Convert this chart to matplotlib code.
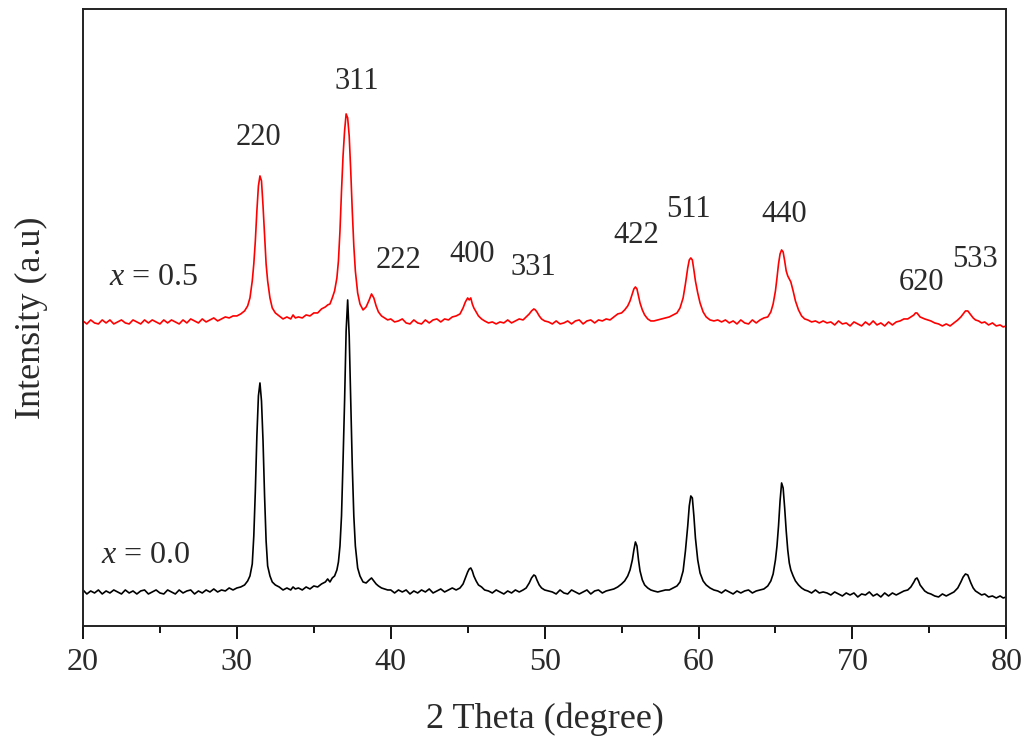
import numpy as np
import matplotlib
matplotlib.use("Agg")
import matplotlib.pyplot as plt

plt.rcParams['font.family'] = ['Liberation Serif', 'DejaVu Serif']
plt.rcParams['mathtext.fontset'] = 'custom'
plt.rcParams['mathtext.rm'] = 'Liberation Serif'
plt.rcParams['mathtext.it'] = 'Liberation Serif:italic'

# 2 theta grid (degree), shared by both patterns
two_theta = [
    20.0, 20.25, 20.5, 20.75, 21.0, 21.25, 21.5, 21.75, 22.0, 22.25,
    22.5, 22.75, 23.0, 23.25, 23.5, 23.75, 24.0, 24.25, 24.5, 24.75,
    25.0, 25.25, 25.5, 25.75, 26.0, 26.25, 26.5, 26.75, 27.0, 27.25,
    27.5, 27.75, 28.0, 28.25, 28.5, 28.75, 29.0, 29.25, 29.5, 29.75,
    30.0, 30.25, 30.5, 30.7, 30.85, 31.0, 31.1, 31.2, 31.3, 31.4, 31.5, 31.6, 31.7, 31.8, 31.9, 32.0,
    32.15, 32.3, 32.5, 32.75, 33.0, 33.25, 33.5, 33.65, 33.8, 34.0, 34.25, 34.5, 34.75, 35.0, 35.25, 35.5, 35.75,
    35.9, 36.05, 36.2, 36.35, 36.5, 36.6, 36.7, 36.8, 36.9, 37.0, 37.1, 37.2, 37.3, 37.4, 37.5,
    37.6, 37.7, 37.85, 38.0, 38.2, 38.4, 38.6, 38.75, 38.9, 39.05, 39.2, 39.4, 39.6, 39.8,
    40.0, 40.25, 40.5, 40.75, 41.0, 41.25, 41.5, 41.75, 42.0, 42.25, 42.5, 42.75, 43.0, 43.25, 43.5, 43.75, 44.0, 44.25,
    44.5, 44.7, 44.85, 45.0, 45.1, 45.2, 45.3, 45.4, 45.55, 45.7, 45.9, 46.1, 46.35, 46.6, 46.85, 47.1,
    47.35, 47.6, 47.85, 48.1, 48.35, 48.6, 48.8, 49.0, 49.15, 49.3, 49.4, 49.5, 49.65, 49.8, 50.0, 50.25,
    50.5, 50.75, 51.0, 51.25, 51.5, 51.75, 52.0, 52.25, 52.5, 52.75, 53.0, 53.25, 53.5, 53.75, 54.0, 54.25, 54.5, 54.75,
    55.0, 55.2, 55.4, 55.55, 55.7, 55.8, 55.9, 56.0, 56.1, 56.2, 56.35, 56.5, 56.7, 56.9, 57.1, 57.35, 57.6, 57.85,
    58.1, 58.35, 58.6, 58.8, 59.0, 59.15, 59.3, 59.4, 59.5, 59.6, 59.7, 59.8, 59.95, 60.1, 60.3, 60.5, 60.75, 61.0,
    61.25, 61.5, 61.75, 62.0, 62.25, 62.5, 62.75, 63.0, 63.25, 63.5, 63.75, 64.0, 64.25,
    64.5, 64.7, 64.85, 65.0, 65.1, 65.2, 65.3, 65.4, 65.5, 65.6, 65.7, 65.8, 65.9, 66.0, 66.15, 66.3,
    66.5, 66.7, 66.9, 67.1, 67.35, 67.6, 67.85, 68.1,
    68.35, 68.6, 68.85, 69.1, 69.35, 69.6, 69.85, 70.1, 70.35, 70.6, 70.85, 71.1, 71.35, 71.6, 71.85, 72.1,
    72.35, 72.6, 72.85, 73.1, 73.35,
    73.6, 73.8, 74.0, 74.1, 74.2, 74.3, 74.4, 74.55, 74.7, 74.9, 75.1, 75.35, 75.6, 75.85, 76.1, 76.35, 76.6, 76.85,
    77.05, 77.2, 77.35, 77.5, 77.6, 77.7, 77.85, 78.0, 78.2, 78.4, 78.6, 78.85, 79.1, 79.35, 79.6, 79.8, 80.0,
]

# x = 0.0 pattern (black)
intensity_x00 = [
    36, 32, 35, 33, 36, 32, 35, 33, 36, 34,
    32, 36, 33, 35, 32, 35, 36, 32, 34, 36,
    33, 32, 36, 34, 32, 36, 33, 35, 36, 32,
    35, 33, 36, 34, 37, 34, 36, 35, 38, 36,
    38, 39, 41, 45, 50, 62, 90, 135, 190, 230, 243, 225, 185, 130, 85, 60,
    50, 44, 41, 39, 36, 38, 36, 39, 37, 38, 36, 39, 37, 40, 39, 42, 44,
    47, 44, 48, 50, 56, 64, 80, 110, 165, 225, 295, 326, 290, 225, 160,
    110, 80, 58, 50, 44, 43, 46, 48, 45, 42, 40, 38, 37, 36,
    36, 33, 36, 34, 36, 32, 35, 33, 36, 34, 37, 33, 35, 37, 34, 36, 38, 36,
    38, 42, 48, 54, 57, 58, 55, 50, 45, 41, 39, 36, 35, 33, 36, 34,
    32, 35, 33, 36, 34, 36, 38, 43, 48, 51, 50, 46, 41, 38, 36, 35,
    34, 32, 36, 33, 32, 36, 34, 32, 34, 36, 32, 35, 36, 33, 35, 36, 37, 39,
    42, 45, 50, 56, 66, 76, 84, 80, 66, 55, 46, 41, 38, 36, 35, 34, 35, 36,
    36, 38, 40, 44, 55, 75, 100, 120, 130, 128, 110, 88, 66, 53, 45, 41, 38, 36,
    35, 33, 36, 34, 32, 35, 33, 35, 36, 33, 35, 36, 37,
    40, 45, 52, 66, 80, 100, 125, 143, 138, 118, 95, 76, 63, 56, 50, 45,
    41, 38, 36, 35, 33, 36, 33, 34,
    33, 31, 34, 32, 30, 33, 31, 33, 29, 32, 31, 34, 30, 32, 29, 33,
    30, 33, 31, 33, 35,
    36, 39, 44, 47, 48, 45, 41, 38, 35, 33, 32, 30, 29, 32, 30, 32, 34, 38,
    44, 49, 52, 51, 47, 43, 38, 35, 33, 31, 32, 29, 30, 28, 30, 28, 29,
]

# x = 0.5 pattern (red), already offset upward
intensity_x05 = [
    305, 302, 306, 303, 302, 306, 303, 306, 302, 304,
    306, 303, 302, 306, 304, 302, 306, 303, 306, 304,
    302, 306, 303, 306, 304, 302, 306, 303, 307, 305,
    303, 307, 304, 306, 308, 305, 307, 309, 308, 310,
    310, 312, 315, 320, 328, 345, 362, 385, 415, 440, 450, 445, 420, 390, 362, 345,
    328, 318, 313, 310, 307, 309, 307, 311, 308, 309, 308, 311, 310, 313, 313, 317, 319,
    321, 322, 328, 335, 348, 365, 395, 435, 470, 495, 512, 508, 490, 455, 415,
    380, 355, 333, 322, 316, 319, 326, 332, 328, 320, 314, 310, 308, 306,
    307, 304, 305, 307, 303, 302, 306, 303, 302, 306, 303, 306, 307, 304, 307, 306, 309, 310,
    312, 318, 324, 328, 326, 328, 322, 318, 314, 310, 307, 305, 303, 304, 302, 304,
    303, 306, 303, 305, 307, 306, 309, 312, 315, 317, 316, 314, 310, 307, 305, 304,
    302, 305, 302, 303, 305, 302, 305, 306, 302, 305, 306, 303, 306, 305, 307, 306, 309, 312,
    313, 316, 320, 325, 332, 337, 339, 337, 330, 323, 316, 311, 307, 305, 305, 306, 307, 308,
    309, 311, 313, 318, 328, 342, 358, 366, 368, 366, 356, 345, 333, 323, 314, 309, 306, 305,
    306, 304, 306, 303, 305, 302, 306, 303, 302, 306, 303, 306, 308,
    309, 314, 322, 335, 348, 362, 372, 376, 374, 365, 355, 350, 347, 344, 335, 325,
    316, 310, 307, 306, 304, 305, 303, 305,
    303, 304, 301, 305, 302, 303, 300, 304, 302, 300, 304, 301, 305, 301, 303, 300,
    304, 301, 304, 305, 307,
    307, 309, 311, 313, 313, 311, 309, 308, 307, 306, 305, 303, 302, 300, 302, 300, 303, 306,
    309, 312, 315, 315, 313, 311, 308, 306, 305, 303, 304, 301, 303, 300, 301, 299, 300,
]

# peak indices and where they sit
hkl_labels = ["220", "311", "222", "400", "331", "422", "511", "440", "620", "533"]
hkl_x = [31.4, 37.8, 40.5, 45.3, 49.3, 55.95, 59.35, 65.6, 74.5, 77.95]
hkl_y = [488, 544, 365, 371, 358, 390, 416, 411, 343, 366]

sample_labels = ["$x$ = 0.5", "$x$ = 0.0"]
sample_x = [24.6, 24.1]
sample_y = [348, 70]

fig = plt.figure(figsize=(10.31, 7.43), dpi=100)
ax = fig.add_axes([0.0805, 0.1575, 0.8955, 0.8305])

ax.plot(two_theta, intensity_x05, color='#ff0000', lw=1.2)
ax.plot(two_theta, intensity_x00, color='black', lw=1.2)

txtcol = '#2a2a2a'
for lab, xx, yy in zip(hkl_labels, hkl_x, hkl_y):
    ax.text(xx, yy, lab, ha='center', va='center', fontsize=22, color=txtcol)
for lab, xx, yy in zip(sample_labels, sample_x, sample_y):
    ax.text(xx, yy, lab, ha='center', va='center', fontsize=23, color=txtcol)

ax.set_xlim(20, 80)
ax.set_ylim(0, 617)
ax.set_xticks([20, 30, 40, 50, 60, 70, 80])
ax.set_xticks([25, 35, 45, 55, 65, 75], minor=True)
ax.set_yticks([])
ax.tick_params(axis='x', which='major', direction='out', length=9, width=1.3,
               labelsize=23, labelcolor=txtcol, pad=7, top=False)
ax.tick_params(axis='x', which='minor', direction='out', length=5, width=1.3, top=False)
for sp in ax.spines.values():
    sp.set_linewidth(1.4)
    sp.set_color('#222222')

ax.set_xlabel("2 Theta (degree)", fontsize=26, color=txtcol, labelpad=18)
ax.set_ylabel("Intensity (a.u)", fontsize=26, color=txtcol, labelpad=25)

fig.savefig("out.png", dpi=100)
